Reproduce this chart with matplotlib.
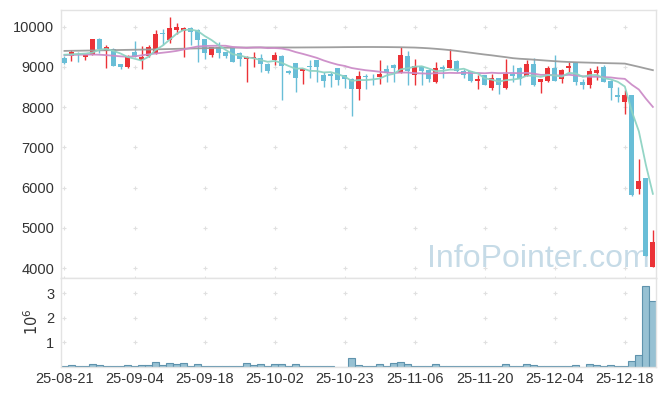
import numpy as np
import pandas as pd
import matplotlib
matplotlib.use("Agg")
import matplotlib.pyplot as plt

# ---------------- data ----------------
tick_labels = ['25-08-21', '25-09-04', '25-09-18', '25-10-02', '25-10-23',
               '25-11-06', '25-11-20', '25-12-04', '25-12-18']

opens = [9210, 9265, 9300, 9250, 9300, 9700, 9405, 9450, 9060, 8985,
         9380, 9157, 9265, 9340, 9840, 9655, 9920, 9900, 9975, 9920,
         9680, 9300, 9490, 9360, 9490, 9350, 9190, 9210, 9225, 9075,
         9180, 9280, 8885, 9090, 8895, 9020, 9160, 8785, 8825, 8965,
         8785, 8705, 8455, 8770, 8765, 8745, 8950, 9050, 8845, 9280,
         8785, 9010, 8910, 8620, 8990, 8965, 9155, 8895, 8890, 8640,
         8785, 8470, 8720, 8470, 8825, 8975, 8770, 9075, 8620, 8660,
         8975, 8705, 8965, 9115, 8635, 8560, 8845, 8990, 8660, 8305,
         8125, 8300, 5960, 6240, 4030]
highs = [9260, 9420, 9365, 9320, 9700, 9710, 9550, 9460, 9070, 9290,
         9630, 9523, 9540, 9925, 9940, 10230, 10077, 9990, 9990, 9930,
         9700, 9490, 9611, 9380, 9500, 9360, 9260, 9363, 9322, 9090,
         9363, 9290, 8930, 9100, 8940, 9174, 9170, 8867, 8867, 8975,
         8800, 8720, 8890, 8826, 8826, 9174, 9050, 9060, 9500, 9405,
         9199, 9020, 8950, 9116, 9050, 9447, 9160, 8950, 8895, 8785,
         8790, 8826, 8730, 9190, 9050, 8990, 9174, 9213, 8700, 9008,
         9298, 8950, 9116, 9120, 8703, 8975, 9008, 9050, 8680, 8496,
         8413, 8310, 6720, 6250, 4940]
lows = [9060, 9150, 9115, 9160, 9290, 9340, 8980, 9030, 8940, 8980,
        9240, 8934, 9250, 9330, 9530, 9600, 9818, 9240, 9530, 9130,
        9200, 9240, 9215, 9215, 9110, 9018, 8620, 8992, 8877, 8850,
        9033, 8180, 8830, 8370, 8580, 8727, 8620, 8495, 8495, 8537,
        8471, 7790, 8165, 8455, 8537, 8579, 8620, 8620, 8840, 8537,
        8537, 8537, 8620, 8610, 8727, 8960, 8880, 8727, 8630, 8455,
        8540, 8413, 8330, 8460, 8620, 8537, 8760, 8530, 8355, 8620,
        8650, 8603, 8867, 8554, 8455, 8471, 8661, 8620, 8180, 8124,
        7835, 5790, 5850, 4300, 4030]
closes = [9090, 9380, 9295, 9300, 9700, 9450, 9487, 9030, 8990, 9265,
          9240, 9256, 9500, 9820, 9810, 9968, 10000, 9975, 9860, 9660,
          9340, 9487, 9340, 9280, 9115, 9200, 9240, 9230, 9060, 8895,
          9300, 9015, 8835, 8720, 8935, 9000, 8990, 8660, 8760, 8685,
          8690, 8455, 8770, 8755, 8760, 8810, 8845, 8965, 9305, 8895,
          9010, 8895, 8690, 8975, 8935, 9157, 8895, 8800, 8640, 8690,
          8555, 8720, 8555, 8825, 8760, 8690, 9075, 8540, 8690, 8975,
          8660, 8910, 9010, 8620, 8555, 8885, 8910, 8620, 8470, 8250,
          8305, 5810, 6160, 4310, 4650]
volumes = [20000, 55000, 10000, 15000, 95000, 55000, 15000, 15000, 15000, 55000,
           20000, 50000, 55000, 180000, 55000, 140000, 100000, 140000, 20000, 100000,
           20000, 15000, 15000, 15000, 15000, 15000, 140000, 60000, 100000, 20000,
           100000, 100000, 20000, 100000, 20000, 20000, 20000, 20000, 15000, 5000,
           5000, 340000, 55000, 15000, 15000, 100000, 15000, 140000, 180000, 100000,
           15000, 15000, 15000, 100000, 15000, 15000, 15000, 15000, 15000, 15000,
           15000, 15000, 15000, 100000, 15000, 15000, 100000, 55000, 15000, 15000,
           15000, 15000, 15000, 60000, 5000, 100000, 55000, 15000, 55000, 15000,
           15000, 230000, 460000, 3300000, 2690000]

# moving-average values before enough history exists
ma5_head = [9300, 9310, 9320, 9330]
ma20_head = [9290, 9295, 9300, 9303, 9305, 9300, 9290, 9275, 9260, 9250,
             9260, 9285, 9310, 9330, 9350, 9370, 9395, 9430, 9470]
# long moving average (grey line)
ma_long = [9395, 9398, 9400, 9403, 9406, 9409, 9412, 9415, 9418, 9421,
           9424, 9427, 9430, 9434, 9438, 9442, 9446, 9450, 9454, 9458,
           9462, 9466, 9470, 9473, 9476, 9478, 9479, 9480, 9480, 9480,
           9480, 9480, 9480, 9480, 9481, 9482, 9483, 9484, 9485, 9487,
           9489, 9490, 9491, 9492, 9492, 9491, 9490, 9488, 9486, 9482,
           9478, 9470, 9460, 9447, 9432, 9415, 9395, 9372, 9350, 9327,
           9305, 9285, 9262, 9240, 9215, 9200, 9190, 9178, 9165, 9152,
           9140, 9128, 9120, 9114, 9108, 9103, 9098, 9093, 9089, 9085,
           9080, 9040, 9000, 8958, 8917]

# ---------------- derived ----------------
o = np.array(opens, float); h = np.array(highs, float)
l = np.array(lows, float); c = np.array(closes, float)
v = np.array(volumes, float)
n = len(c)
x = np.arange(n)
cs = pd.Series(c)
ma5 = cs.rolling(5).mean().to_numpy(); ma5[:len(ma5_head)] = ma5_head
ma20 = cs.rolling(20).mean().to_numpy(); ma20[:len(ma20_head)] = ma20_head
mal = np.array(ma_long, float)

UP = '#eb3237'
DOWN = '#69bed7'
GRID = '#e0e0e0'
SPINE = '#e3e3e3'
TXT = '#333333'
FONT = ['Liberation Sans', 'DejaVu Sans']
plt.rcParams['font.family'] = FONT

fig = plt.figure(figsize=(6.65, 3.96), dpi=100)
ax = fig.add_axes([0.0922, 0.2972, 0.8943, 0.6775])
axv = fig.add_axes([0.0922, 0.0740, 0.8943, 0.2232])

xt = x[::10]
yt = [4000, 5000, 6000, 7000, 8000, 9000, 10000]
vt = [1e6, 2e6, 3e6]

# grid "+" marks
gx, gy = np.meshgrid(xt, yt)
ax.scatter(gx.ravel(), gy.ravel(), marker='+', s=8, c=GRID, linewidths=0.8, zorder=0)
gx2, gy2 = np.meshgrid(xt, vt)
axv.scatter(gx2.ravel(), gy2.ravel(), marker='+', s=8, c=GRID, linewidths=0.8, zorder=0)

# candles
up = c >= o
colors = np.where(up, UP, DOWN)
ax.vlines(x, l, h, colors=colors, linewidth=1.0, zorder=2)
body_bottom = np.minimum(o, c)
body_h = np.maximum(np.abs(c - o), 22)
ax.bar(x, body_h, bottom=body_bottom, width=0.72, color=colors, linewidth=0, zorder=3)

# moving averages
ax.plot(x, mal, color='#9a9a9a', lw=1.3, zorder=4, alpha=0.95)
ax.plot(x, ma20, color='#cc8cc8', lw=1.3, zorder=4, alpha=0.95)
ax.plot(x, ma5, color='#8ed3c3', lw=1.3, zorder=4, alpha=0.95)

# watermark
ax.text(0.8030, 0.043, 'InfoPointer.com', transform=ax.transAxes, ha='center',
        va='baseline', fontsize=23, color='#c6dbe7', family=FONT, zorder=1)

ax.set_xlim(-0.45, n - 0.55)
ax.set_ylim(3750, 10410)
ax.set_yticks(yt)
ax.set_yticklabels([str(t) for t in yt])
ax.set_xticks(xt)
ax.tick_params(axis='x', labelbottom=False, length=3, direction='inout', color=GRID, width=0.8)
ax.tick_params(axis='y', length=0, pad=5, labelsize=10.5, labelcolor=TXT)

# volume
axv.bar(x, v, width=1.0, color='#97c1d3', edgecolor='#5f93ad', linewidth=0.8, zorder=2)
axv.set_xlim(-0.45, n - 0.55)
axv.set_ylim(0, 3.61e6)
axv.set_yticks(vt)
axv.set_yticklabels(['1', '2', '3'])
axv.set_xticks(xt)
axv.set_xticklabels(tick_labels)
axv.tick_params(axis='x', length=0, pad=4, labelsize=10.5, labelcolor=TXT)
axv.tick_params(axis='y', length=0, pad=5, labelsize=10.5, labelcolor=TXT)
fig.text(0.048, 0.1876, r'$10^6$', rotation=90, ha='center', va='center',
         fontsize=10.5, color=TXT)

for a in (ax, axv):
    for s in a.spines.values():
        s.set_color(SPINE)
        s.set_linewidth(1.0)

fig.savefig('out.png', dpi=100, facecolor='white')
